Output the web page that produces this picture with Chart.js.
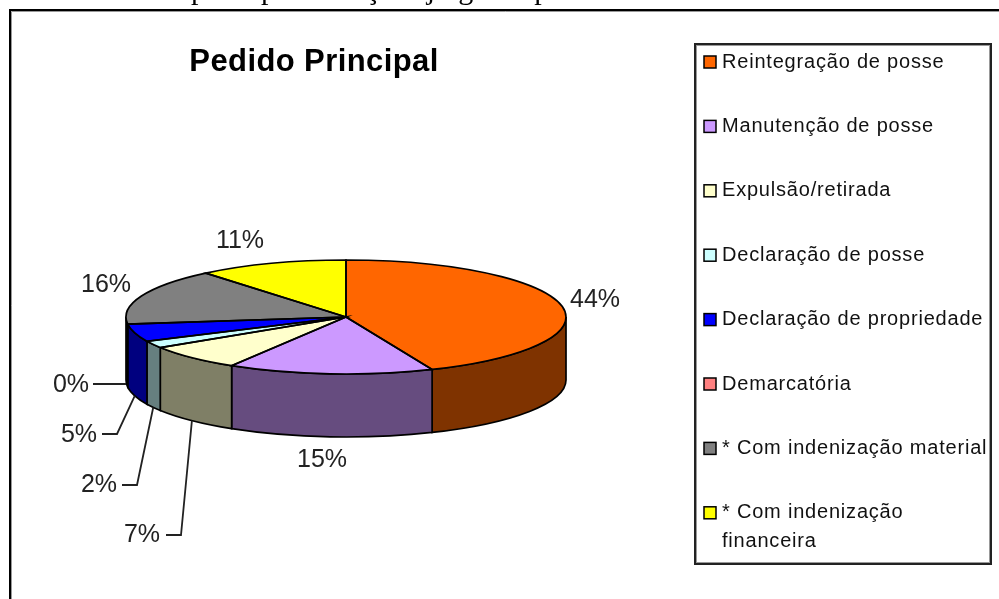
<!DOCTYPE html>
<html>
<head>
<meta charset="utf-8">
<title>Pedido Principal</title>
<script src="https://cdn.jsdelivr.net/npm/chart.js@4/dist/chart.umd.min.js"></script>
<style>
    html, body { margin: 0; padding: 0; background: #fff; overflow: hidden; }
    #chart { display: block; }
</style>
</head>
<body>
<canvas id="chart" width="999" height="599"></canvas>
<script>
const categories = [
    'Reintegração de posse',
    'Manutenção de posse',
    'Expulsão/retirada',
    'Declaração de posse',
    'Declaração de propriedade',
    'Demarcatória',
    '* Com indenização material',
    '* Com indenização financeira'
];
// labels show these rounded, the slices use the angle
const percents = [43.6, 15.1, 7.3, 2, 5, 0, 16, 11];
const sliceColors = ['#FF6600', '#CC99FF', '#FFFFCC', '#CCFFFF', '#0000FF', '#FF8080', '#808080', '#FFFF00'];
const wallColors = ['#7F3300', '#664C7F', '#7F7F66', '#667F7F', '#00007F', '#7F4040', '#404040', '#7F7F00'];

const titleText = 'Pedido Principal';
const captionText = 'Gráfico 15 - Pedido principal nas ações julgadas por comarca';

const squash = 57 / 220;   // pie tilt
const depth = 63;          // height of the side wall

// where each percent label sits, and the elbow of its leader line if it has one
const labelPlaces = [
    { x: 595, y: 300 },
    { x: 322, y: 460 },
    { x: 142, y: 535, elbow: [[181, 535], [166, 535]] },
    { x: 99, y: 485, elbow: [[137, 485], [122, 485]] },
    { x: 79, y: 435, elbow: [[117, 434], [102, 434]] },
    { x: 71, y: 385, from: [126, 384], elbow: [[93, 384]] },
    { x: 106, y: 285 },
    { x: 240, y: 241 }
];

const legendBox = { left: 695, top: 44, right: 991, bottom: 564, swatchX: 704, textX: 722, firstRow: 62, rowGap: 64.4, lineGap: 29, wrapAt: 272 };

const pie3d = {
    id: 'pie3d',
    beforeDatasetsDraw(chart) {
        const ctx = chart.ctx;
        const arcs = chart.getDatasetMeta(0).data;
        const cx = arcs[0].x, cy = arcs[0].y, rx = arcs[0].outerRadius, ry = rx * squash;

        // only the part of the rim facing us (canvas angles 0..PI) gets a wall
        arcs.forEach((arc, i) => {
            const a = Math.max(arc.startAngle, 0);
            const b = Math.min(arc.endAngle, Math.PI);
            if (b <= a) return;
            ctx.beginPath();
            ctx.ellipse(cx, cy, rx, ry, 0, a, b);
            ctx.ellipse(cx, cy + depth, rx, ry, 0, b, a, true);
            ctx.closePath();
            ctx.fillStyle = wallColors[i];
            ctx.fill();
            ctx.strokeStyle = '#000';
            ctx.lineWidth = 1.7;
            ctx.stroke();
        });

        // the library draws the slices, flattened
        ctx.save();
        ctx.translate(cx, cy);
        ctx.scale(1, squash);
        ctx.translate(-cx, -cy);
    },
    afterDatasetsDraw(chart) {
        const ctx = chart.ctx;
        ctx.restore();

        const arcs = chart.getDatasetMeta(0).data;
        const cx = arcs[0].x, cy = arcs[0].y, rx = arcs[0].outerRadius, ry = rx * squash;
        arcs.forEach(arc => {
            if (arc.endAngle - arc.startAngle <= 0) return;
            ctx.beginPath();
            ctx.moveTo(cx, cy);
            ctx.ellipse(cx, cy, rx, ry, 0, arc.startAngle, arc.endAngle);
            ctx.closePath();
            ctx.strokeStyle = '#000';
            ctx.lineWidth = 1.7;
            ctx.stroke();
        });
    },
    afterDraw(chart) {
        const ctx = chart.ctx;
        const arcs = chart.getDatasetMeta(0).data;
        const cx = arcs[0].x, cy = arcs[0].y, rx = arcs[0].outerRadius, ry = rx * squash;

        ctx.save();

        // outer frame, right and bottom run off the picture
        ctx.strokeStyle = '#999';
        ctx.lineWidth = 1;
        ctx.beginPath();
        ctx.moveTo(11.5, 599);
        ctx.lineTo(11.5, 11.5);
        ctx.lineTo(999, 11.5);
        ctx.stroke();
        ctx.strokeStyle = '#000';
        ctx.lineWidth = 2;
        ctx.beginPath();
        ctx.moveTo(10, 599);
        ctx.lineTo(10, 10);
        ctx.lineTo(999, 10);
        ctx.stroke();

        // caption of the document, cut off by the top of the picture
        ctx.fillStyle = '#000';
        ctx.font = '30px "Liberation Serif"';
        ctx.textAlign = 'left';
        ctx.textBaseline = 'alphabetic';
        ctx.fillText(captionText, -54, -1);

        // title
        ctx.font = 'bold 31px "Liberation Sans"';
        ctx.letterSpacing = '0.4px';
        ctx.textAlign = 'center';
        ctx.fillText(titleText, 314, 71);
        ctx.letterSpacing = '0px';

        // percent labels and leader lines
        ctx.font = '25px "Liberation Sans"';
        ctx.textBaseline = 'middle';
        ctx.fillStyle = '#222';
        percents.forEach((v, i) => {
            const place = labelPlaces[i];
            ctx.fillText(Math.round(v) + '%', place.x, place.y);
            if (!place.elbow) return;
            const mid = (arcs[i].startAngle + arcs[i].endAngle) / 2;
            const start = place.from || [cx + rx * Math.cos(mid), cy + ry * Math.sin(mid) + depth];
            ctx.beginPath();
            ctx.moveTo(start[0], start[1]);
            place.elbow.forEach(p => ctx.lineTo(p[0], p[1]));
            ctx.strokeStyle = '#222';
            ctx.lineWidth = 1.8;
            ctx.stroke();
        });

        drawLegend(ctx, chart);
        ctx.restore();
    }
};

function drawLegend(ctx, chart) {
    const box = legendBox;
    ctx.fillStyle = '#fff';
    ctx.fillRect(box.left, box.top, box.right - box.left, box.bottom - box.top);
    ctx.strokeStyle = '#999';
    ctx.lineWidth = 1;
    ctx.strokeRect(box.left + 1.5, box.top + 1.5, box.right - box.left - 3, box.bottom - box.top - 3);
    ctx.strokeStyle = '#222';
    ctx.lineWidth = 2;
    ctx.strokeRect(box.left, box.top, box.right - box.left, box.bottom - box.top);

    ctx.font = '20px "Liberation Sans"';
    ctx.letterSpacing = '0.8px';
    ctx.textAlign = 'left';
    ctx.textBaseline = 'middle';

    chart.data.labels.forEach((label, i) => {
        const y = box.firstRow + i * box.rowGap;
        ctx.fillStyle = chart.data.datasets[0].backgroundColor[i];
        ctx.strokeStyle = '#000';
        ctx.lineWidth = 1.5;
        ctx.fillRect(box.swatchX, y - 6, 12, 12);
        ctx.strokeRect(box.swatchX, y - 6, 12, 12);

        ctx.fillStyle = '#111';
        // long labels wrap once
        let first = label, second = null;
        if (ctx.measureText(label).width > box.wrapAt) {
            const cut = label.lastIndexOf(' ');
            first = label.slice(0, cut);
            second = label.slice(cut + 1);
        }
        ctx.fillText(first, box.textX, y);
        if (second) ctx.fillText(second, box.textX, y + box.lineGap);
    });
    ctx.letterSpacing = '0px';
}

new Chart(document.getElementById('chart'), {
    type: 'pie',
    data: {
        labels: categories,
        datasets: [{
            data: percents,
            backgroundColor: sliceColors,
            borderWidth: 0
        }]
    },
    options: {
        responsive: false,
        animation: false,
        layout: { padding: { left: 126, right: 433, top: 97, bottom: 62 } },
        plugins: {
            legend: { display: false },
            tooltip: { enabled: false }
        }
    },
    plugins: [pie3d]
});
</script>
</body>
</html>
